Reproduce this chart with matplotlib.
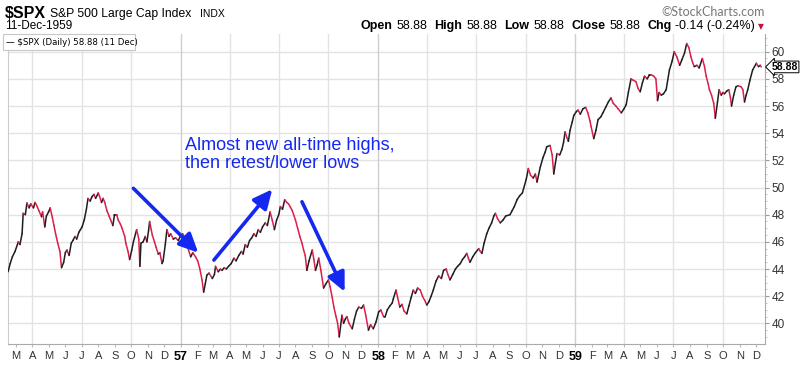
import matplotlib
matplotlib.use('Agg')
import matplotlib.pyplot as plt
import matplotlib.dates as mdates
from matplotlib.collections import LineCollection
from matplotlib.patches import Rectangle
import pandas as pd
import numpy as np

# approximate daily-ish closes
dates = [
    '1956-02-16', '1956-02-20', '1956-02-24', '1956-02-29', '1956-03-06', '1956-03-09', '1956-03-13',
    '1956-03-15', '1956-03-19', '1956-03-22', '1956-03-26', '1956-03-29', '1956-04-03', '1956-04-06',
    '1956-04-10', '1956-04-13', '1956-04-18', '1956-04-20', '1956-04-24', '1956-04-27', '1956-05-01',
    '1956-05-04', '1956-05-08', '1956-05-11', '1956-05-14', '1956-05-18', '1956-05-22', '1956-05-25',
    '1956-05-29', '1956-06-01', '1956-06-04', '1956-06-08', '1956-06-12', '1956-06-15', '1956-06-19',
    '1956-06-22', '1956-06-26', '1956-06-29', '1956-07-02', '1956-07-06', '1956-07-10', '1956-07-13',
    '1956-07-17', '1956-07-20', '1956-07-24', '1956-07-27', '1956-08-01', '1956-08-03', '1956-08-07',
    '1956-08-10', '1956-08-13', '1956-08-17', '1956-08-21', '1956-08-24', '1956-08-28', '1956-08-31',
    '1956-09-04', '1956-09-07', '1956-09-11', '1956-09-14', '1956-09-19', '1956-09-21', '1956-09-25',
    '1956-09-28', '1956-10-02', '1956-10-05', '1956-10-09', '1956-10-11', '1956-10-15', '1956-10-17',
    '1956-10-19', '1956-10-23', '1956-10-27', '1956-10-30', '1956-11-02', '1956-11-04', '1956-11-07',
    '1956-11-09', '1956-11-13', '1956-11-16', '1956-11-20', '1956-11-23', '1956-11-27', '1956-11-29',
    '1956-12-03', '1956-12-06', '1956-12-10', '1956-12-13', '1956-12-18', '1956-12-22', '1956-12-27',
    '1956-12-31',
    '1957-01-04', '1957-01-07', '1957-01-11', '1957-01-15', '1957-01-19', '1957-01-23', '1957-01-28',
    '1957-02-01', '1957-02-05', '1957-02-09', '1957-02-12', '1957-02-15', '1957-02-18', '1957-02-22',
    '1957-02-28', '1957-03-04', '1957-03-06', '1957-03-11', '1957-03-15', '1957-03-18', '1957-03-22',
    '1957-03-26', '1957-03-30', '1957-04-04', '1957-04-09', '1957-04-13', '1957-04-18', '1957-04-23',
    '1957-04-26', '1957-04-30', '1957-05-04', '1957-05-08', '1957-05-12', '1957-05-16', '1957-05-20',
    '1957-05-24', '1957-05-28', '1957-06-01', '1957-06-06', '1957-06-10', '1957-06-15', '1957-06-19',
    '1957-06-23', '1957-06-27', '1957-07-01', '1957-07-04', '1957-07-08', '1957-07-12', '1957-07-16',
    '1957-07-19', '1957-07-22', '1957-07-26', '1957-08-01', '1957-08-05', '1957-08-09', '1957-08-13',
    '1957-08-16', '1957-08-19', '1957-08-22', '1957-08-26', '1957-09-01', '1957-09-04', '1957-09-07',
    '1957-09-10', '1957-09-13', '1957-09-17', '1957-09-22', '1957-09-26', '1957-10-01', '1957-10-04',
    '1957-10-08', '1957-10-11', '1957-10-15', '1957-10-18', '1957-10-21', '1957-10-26', '1957-10-29',
    '1957-11-01', '1957-11-04', '1957-11-08', '1957-11-14', '1957-11-18', '1957-11-22', '1957-11-26',
    '1957-12-01', '1957-12-05', '1957-12-09', '1957-12-14', '1957-12-18', '1957-12-23', '1957-12-28',
    '1958-01-02', '1958-01-06', '1958-01-11', '1958-01-14', '1958-01-18', '1958-01-23', '1958-01-27',
    '1958-01-29', '1958-02-03', '1958-02-06', '1958-02-10', '1958-02-14', '1958-02-18', '1958-02-23',
    '1958-02-27', '1958-03-03', '1958-03-07', '1958-03-11', '1958-03-15', '1958-03-20', '1958-03-24',
    '1958-03-28', '1958-04-01', '1958-04-05', '1958-04-09', '1958-04-13', '1958-04-18', '1958-04-23',
    '1958-04-28', '1958-05-02', '1958-05-07', '1958-05-10', '1958-05-14', '1958-05-19', '1958-05-24',
    '1958-05-28', '1958-06-02', '1958-06-06', '1958-06-10', '1958-06-14', '1958-06-17', '1958-06-20',
    '1958-06-25', '1958-06-30', '1958-07-06', '1958-07-09', '1958-07-12', '1958-07-16', '1958-07-21',
    '1958-07-25', '1958-07-30', '1958-08-03', '1958-08-06', '1958-08-10', '1958-08-15', '1958-08-20',
    '1958-08-25', '1958-09-02', '1958-09-06', '1958-09-10', '1958-09-15', '1958-09-20', '1958-09-25',
    '1958-09-27', '1958-10-02', '1958-10-06', '1958-10-10', '1958-10-15', '1958-10-19', '1958-10-22',
    '1958-10-28', '1958-11-02', '1958-11-06', '1958-11-09', '1958-11-15', '1958-11-19', '1958-11-22',
    '1958-11-25', '1958-11-28', '1958-12-03', '1958-12-07', '1958-12-10', '1958-12-13', '1958-12-16',
    '1958-12-19', '1958-12-22', '1958-12-26', '1958-12-29',
    '1959-01-03', '1959-01-06', '1959-01-10', '1959-01-15', '1959-01-20', '1959-01-24', '1959-01-28',
    '1959-01-30', '1959-02-04', '1959-02-08', '1959-02-12', '1959-02-17', '1959-02-21', '1959-02-26',
    '1959-03-03', '1959-03-08', '1959-03-12', '1959-03-17', '1959-03-21', '1959-03-27', '1959-04-01',
    '1959-04-05', '1959-04-09', '1959-04-14', '1959-04-18', '1959-04-23', '1959-04-27', '1959-05-01',
    '1959-05-05', '1959-05-09', '1959-05-14', '1959-05-18', '1959-05-21', '1959-05-26', '1959-05-30',
    '1959-06-02', '1959-06-05', '1959-06-09', '1959-06-13', '1959-06-18', '1959-06-24', '1959-06-29',
    '1959-07-03', '1959-07-08', '1959-07-13', '1959-07-17', '1959-07-22', '1959-07-26', '1959-07-30',
    '1959-08-03', '1959-08-06', '1959-08-09', '1959-08-14', '1959-08-18', '1959-08-24', '1959-08-28',
    '1959-08-31', '1959-09-04', '1959-09-06', '1959-09-10', '1959-09-14', '1959-09-17', '1959-09-21',
    '1959-09-24', '1959-09-28', '1959-10-01', '1959-10-04', '1959-10-08', '1959-10-12', '1959-10-15',
    '1959-10-17', '1959-10-21', '1959-10-25', '1959-10-29', '1959-11-04', '1959-11-07', '1959-11-10',
    '1959-11-13', '1959-11-16', '1959-11-20', '1959-11-25', '1959-12-02', '1959-12-04', '1959-12-06',
    '1959-12-09', '1959-12-11',
]
closes = [
    43.8, 44.4, 44.9, 45.3, 46.0, 45.8, 46.6,
    48.1, 48.0, 48.86, 48.5, 48.8, 48.5, 48.9,
    48.6, 48.3, 47.85, 48.2, 47.1, 47.9, 48.2,
    48.5, 47.8, 47.2, 46.6, 45.9, 45.3, 44.1,
    44.5, 45.2, 45.4, 45.0, 45.9, 46.1, 46.4,
    46.2, 46.7, 46.9, 47.1, 47.6, 48.4, 49.2,
    49.0, 49.3, 49.5, 49.2, 49.6, 49.4, 48.9,
    49.2, 48.9, 48.3, 47.9, 47.6, 47.2, 48.0,
    48.0, 47.6, 47.3, 47.0, 46.4, 45.9, 45.3,
    44.7, 45.4, 46.0, 46.6, 46.9, 46.2, 44.2,
    45.9, 46.0, 46.4, 46.0, 46.8, 47.5, 46.9,
    46.5, 46.0, 45.6, 45.1, 45.2, 44.4, 44.6,
    45.8, 46.9, 46.4, 46.6, 46.2, 46.3, 46.1,
    46.4,
    46.6, 46.4, 46.1, 45.4, 44.9, 45.2, 44.9,
    44.6, 44.0, 43.2, 42.3, 42.9, 43.55, 43.7,
    43.3, 43.6, 44.2, 43.8, 44.0, 43.9, 44.1,
    44.0, 44.2, 44.4, 44.8, 44.6, 45.0, 45.3,
    45.1, 45.8, 45.6, 46.1, 46.3, 46.6, 46.4,
    46.9, 46.7, 47.1, 47.4, 47.2, 48.2, 47.6,
    46.9, 47.6, 48.0, 48.6, 48.4, 49.1, 48.9,
    48.8, 48.6, 48.3, 47.6, 47.0, 46.4, 45.9,
    45.4, 45.0, 43.9, 44.6, 45.4, 44.7, 43.9,
    44.3, 44.8, 43.9, 42.6, 42.9, 43.2, 42.7,
    41.9, 41.2, 40.5, 40.0, 39.0, 40.6, 40.0,
    40.3, 40.5, 40.0, 39.6, 40.3, 40.9, 41.2,
    41.1, 41.35, 40.6, 39.5, 39.9, 39.6, 40.1,
    40.85, 40.98, 40.5, 40.5, 41.0, 41.3, 41.5,
    41.8, 42.45, 41.9, 41.2, 41.4, 40.9, 40.7,
    41.3, 41.9, 42.45, 42.2, 42.6, 42.45, 42.0,
    41.7, 41.35, 41.6, 42.0, 42.45, 43.1, 43.5,
    43.3, 43.9, 44.0, 43.6, 43.2, 43.6, 44.0,
    44.2, 44.4, 44.7, 44.9, 45.15, 44.8, 44.5,
    44.9, 45.2, 45.5, 45.3, 45.15, 45.9, 46.6,
    47.0, 47.4, 47.9, 48.1, 47.7, 47.4, 47.6,
    47.9, 48.0, 48.3, 48.6, 49.1, 49.4, 49.6,
    49.9, 50.6, 51.4, 50.9, 50.7, 51.0, 50.4,
    51.5, 52.2, 52.6, 53.0, 53.1, 52.4, 51.0,
    51.8, 52.5, 52.4, 52.8, 53.3, 54.1, 53.7,
    53.4, 54.2, 54.8, 55.3,
    55.6, 55.7, 55.4, 55.8, 55.9, 55.5, 54.9,
    54.5, 53.6, 54.2, 55.0, 55.2, 55.5, 55.9,
    56.3, 56.6, 56.2, 56.0, 55.8, 55.5, 55.8,
    56.1, 57.0, 58.0, 57.9, 57.8, 57.3, 57.05,
    57.7, 58.2, 58.0, 58.3, 58.3, 58.2, 58.0,
    56.4, 57.0, 56.8, 56.9, 57.2, 58.65, 59.3,
    60.0, 59.6, 59.0, 59.4, 59.9, 60.6, 60.3,
    59.6, 59.2, 58.9, 59.0, 58.8, 59.5, 58.9,
    58.2, 57.6, 57.2, 56.8, 56.2, 55.1, 56.3,
    57.2, 56.8, 57.0, 56.9, 57.1, 57.2, 56.6,
    56.0, 56.8, 57.4, 57.5, 57.4, 57.2, 56.3,
    56.8, 57.2, 57.9, 58.65, 59.15, 59.0, 58.9,
    59.0, 58.88,
]

y_ticks = list(range(40, 61, 2))
month_letters = ['J', 'F', 'M', 'A', 'M', 'J', 'J', 'A', 'S', 'O', 'N', 'D']

W, H = 800, 365
fig = plt.figure(figsize=(8, 3.65), dpi=100)
fig.patch.set_facecolor('white')
ax = fig.add_axes([7.5 / W, 21 / H, 757 / W, 310.5 / H])

x = mdates.date2num(pd.to_datetime(dates))
y = np.array(closes)
pts = np.column_stack([x, y]).reshape(-1, 1, 2)
segs = np.concatenate([pts[:-1], pts[1:]], axis=1)
cols = ['#1e1e1e' if y[i + 1] >= y[i] else '#dc1e4b' for i in range(len(y) - 1)]
lc = LineCollection(segs, colors=cols, linewidths=1.1, zorder=3, capstyle='round', joinstyle='round')
ax.add_collection(lc)

ax.set_xlim(mdates.date2num(pd.Timestamp('1956-02-15')), mdates.date2num(pd.Timestamp('1959-12-17')))
ax.set_ylim(38.48, 61.34)

# grid
for v in y_ticks:
    ax.axhline(v, color='#e3e3e3', lw=1, zorder=1)
for d in pd.date_range('1956-04-01', '1959-10-01', freq='QS'):
    c = '#cfcfcf' if d.month == 1 else '#e3e3e3'
    ax.axvline(mdates.date2num(d), color=c, lw=1, zorder=1)

# x ticks
months = pd.date_range('1956-03-01', '1959-12-01', freq='MS')
ax.set_xticks(mdates.date2num(months))
ax.set_xticklabels([str(d.year)[2:] if d.month == 1 else month_letters[d.month - 1] for d in months])
for lab, d in zip(ax.get_xticklabels(), months):
    lab.set_fontfamily('Liberation Sans')
    lab.set_fontsize(8)
    if d.month == 1:
        lab.set_fontweight('bold')
        lab.set_color('black')
        lab.set_fontsize(9)
    else:
        lab.set_color('#333333')
ax.tick_params(axis='x', length=2, color='#bbbbbb', pad=3)

# y ticks on the right
ax.yaxis.tick_right()
ax.set_yticks(y_ticks)
ax.set_yticks(np.arange(39, 61.5, 0.5), minor=True)
ax.tick_params(axis='y', which='major', length=3, color='#999999', pad=2, labelsize=8.5, labelcolor='#333333')
ax.tick_params(axis='y', which='minor', length=1.5, color='#bbbbbb')
for lab in ax.get_yticklabels():
    lab.set_fontfamily('Liberation Sans')

ax.spines['top'].set_visible(False)
ax.spines['left'].set_color('#cccccc')
ax.spines['bottom'].set_color('#aaaaaa')
ax.spines['right'].set_color('#aaaaaa')

# last value box
blend = matplotlib.transforms.blended_transform_factory(ax.transAxes, ax.transData)
ax.text(1.0095, closes[-1], '58.88', transform=blend, ha='left', va='center',
        fontsize=7.5, fontweight='bold', family='Liberation Sans', color='black', zorder=6,
        bbox=dict(boxstyle='larrow,pad=0.08', fc='white', ec='black', lw=0.7))

# arrows and note
blue = '#1428f0'
arrows = [
    (('1956-10-05', 49.94), ('1957-02-02', 45.2)),
    (('1957-03-03', 44.66), ('1957-06-19', 49.87)),
    (('1957-08-13', 48.95), ('1957-10-31', 42.33)),
]
for (d0, v0), (d1, v1) in arrows:
    ax.annotate('', xy=(mdates.date2num(pd.Timestamp(d1)), v1),
                xytext=(mdates.date2num(pd.Timestamp(d0)), v0),
                arrowprops=dict(arrowstyle='-|>,head_length=0.95,head_width=0.45', color=blue,
                                lw=2.6, mutation_scale=12, shrinkA=0, shrinkB=0), zorder=5)
ax.text(mdates.date2num(pd.Timestamp('1957-01-09')), 53.75,
        'Almost new all-time highs,\nthen retest/lower lows', color=blue,
        fontsize=13, family='Liberation Sans', va='top', ha='left', linespacing=1.1, zorder=5)

# legend box
fig.patches.append(Rectangle((3 / W, 1 - 50 / H), 132 / W, 16.5 / H, transform=fig.transFigure,
                             fc='white', ec='#c8c8c8', lw=0.8, zorder=4))
fig.text(6 / W, 1 - 45 / H, '\u2014 $SPX (Daily) 58.88 (11 Dec)', fontsize=6.2,
         family='DejaVu Sans', color='black', va='baseline', zorder=5)

# header
fig.text(5 / W, 1 - 18 / H, '$SPX', fontsize=11.5, fontweight='bold', family='Liberation Sans', va='baseline')
fig.text(50 / W, 1 - 17 / H, 'S&P 500 Large Cap Index', fontsize=8.7, family='Liberation Sans', va='baseline')
fig.text(200 / W, 1 - 17 / H, 'INDX', fontsize=7.5, family='Liberation Sans', va='baseline')
fig.text(5 / W, 1 - 29 / H, '11-Dec-1959', fontsize=8.5, family='Liberation Sans', va='baseline')
fig.text(765 / W, 1 - 16 / H, '\u00a9StockCharts.com', fontsize=9, family='Lato', color='#777777',
         ha='right', va='baseline')

# quote row, laid out right to left ending just before the red triangle
header = [('Open', True), ('58.88', False), ('High', True), ('58.88', False),
          ('Low', True), ('58.88', False), ('Close', True), ('58.88', False),
          ('Chg', True), ('-0.14 (-0.24%)', False)]
renderer = fig.canvas.get_renderer()
xr = 755
for txt, bold in reversed(header):
    t = fig.text(xr / W, 1 - 29 / H, txt, fontsize=9, family='Liberation Sans',
                 fontweight='bold' if bold else 'normal', va='baseline', ha='right')
    w = t.get_window_extent(renderer).width
    xr -= w + (4 if not bold else 7)
fig.text(758 / W, 1 - 29 / H, '\u25bc', fontsize=5.5, family='DejaVu Sans', color='#c0143c', va='baseline')

fig.savefig('out.png', dpi=100, facecolor='white')
